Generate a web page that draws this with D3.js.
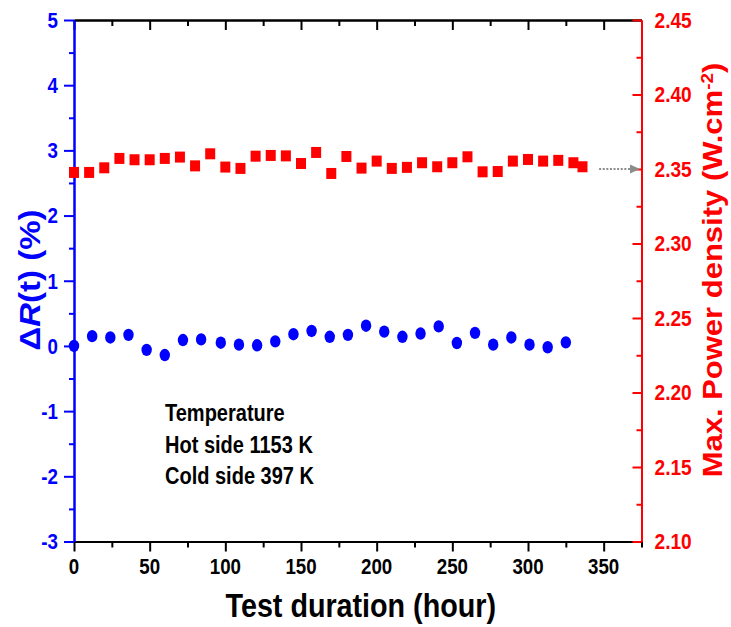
<!DOCTYPE html>
<html>
<head>
<meta charset="utf-8">
<script src="https://cdn.jsdelivr.net/npm/d3@7"></script>
<style>
  html, body { margin: 0; padding: 0; background: #ffffff; }
  svg { display: block; }
  text { font-family: "Liberation Sans", Arial, sans-serif; font-weight: bold; }
</style>
</head>
<body>
<svg id="chart" width="731" height="627"></svg>
<script>
// Resistance change ΔR(t) (%) vs. test duration (hours)
const resHours = [0, 12, 24, 36, 48, 60, 72, 84, 97, 109, 121, 133, 145, 157,
                  169, 181, 193, 205, 217, 229, 241, 253, 265, 277, 289, 301, 313, 325];
const resChange = [0.00, 0.15, 0.13, 0.17, -0.06, -0.14, 0.09, 0.10, 0.05, 0.02, 0.01, 0.07, 0.18, 0.23,
                   0.14, 0.17, 0.31, 0.22, 0.14, 0.19, 0.30, 0.045, 0.20, 0.02, 0.13, 0.02, -0.02, 0.055];

// Maximum power density (W.cm-2) vs. test duration (hours)
const powerHours = [0, 10, 20, 30, 40, 50, 60, 70, 80, 90, 100, 110, 120, 130, 140, 150, 160, 170,
                    180, 190, 200, 210, 220, 230, 240, 250, 260, 270, 280, 290, 300, 310, 320, 330, 336];
const powerDensity = [2.3477, 2.3477, 2.3508, 2.3571, 2.3562, 2.3562, 2.3571, 2.3580, 2.3521, 2.3602,
                      2.3513, 2.3504, 2.3586, 2.3591, 2.3588, 2.3537, 2.3611, 2.3470, 2.3584, 2.3506,
                      2.3553, 2.3504, 2.3511, 2.3542, 2.3515, 2.3542, 2.3582, 2.3481, 2.3483, 2.3553,
                      2.3564, 2.3553, 2.3558, 2.3542, 2.3515];

// Axis ticks
const xMajor = [0, 50, 100, 150, 200, 250, 300, 350];
const xMinor = [25, 75, 125, 175, 225, 275, 325, 375];
const leftMajor = [-3, -2, -1, 0, 1, 2, 3, 4, 5];
const leftMinor = [-2.5, -1.5, -0.5, 0.5, 1.5, 2.5, 3.5, 4.5];
const rightMajor = [2.10, 2.15, 2.20, 2.25, 2.30, 2.35, 2.40, 2.45];
const rightMinor = [2.125, 2.175, 2.225, 2.275, 2.325, 2.375, 2.425];

// Test conditions note
const noteLines = ["Temperature", "Hot side 1153 K", "Cold side 397 K"];

// Arrow pointing from the power series to its axis
const arrowFrom = [347, 2.35];
const arrowTo = [374, 2.35];

const BLUE = "#0000ff", RED = "#ff0000", BLACK = "#000000";
const squeeze = 0.87; // narrow lettering

const svg = d3.select("#chart");
const plotL = 74, plotR = 641.5, plotT = 20, plotB = 541.5;

const x = d3.scaleLinear().domain([0, 375]).range([plotL, plotR]);
const yL = d3.scaleLinear().domain([-3, 5]).range([plotB, plotT]);
const yR = d3.scaleLinear().domain([2.10, 2.45]).range([plotB, plotT]);

function label(g, txt, px, py, opts) {
  const rot = opts.rotate || 0;
  const t = g.append("text")
    .attr("transform", `translate(${px},${py}) scale(${squeeze},1)` + (rot ? ` rotate(${rot})` : ""))
    .attr("text-anchor", opts.anchor || "middle")
    .attr("font-size", opts.size)
    .attr("fill", opts.color || BLACK);
  if (opts.dy) t.attr("dy", opts.dy);
  if (txt !== null) t.text(txt);
  return t;
}

function styleAxis(g, color) {
  g.select(".domain").attr("stroke", color).attr("stroke-width", 2);
  g.selectAll(".tick line").attr("stroke", color).attr("stroke-width", 2);
  g.selectAll(".tick text").remove();
}

// Bottom axis (ticks outward)
const gB = svg.append("g").attr("transform", `translate(0,${plotB})`);
gB.call(d3.axisBottom(x).tickValues(xMajor).tickSize(10).tickSizeOuter(0));
styleAxis(gB, BLACK);
const gBm = svg.append("g").attr("transform", `translate(0,${plotB})`);
gBm.call(d3.axisBottom(x).tickValues(xMinor).tickSize(6).tickSizeOuter(0));
styleAxis(gBm, BLACK);

// Top axis (ticks inward)
const gT = svg.append("g").attr("transform", `translate(0,${plotT})`);
gT.call(d3.axisTop(x).tickValues(xMajor).tickSize(-10).tickSizeOuter(0));
styleAxis(gT, BLACK);
const gTm = svg.append("g").attr("transform", `translate(0,${plotT})`);
gTm.call(d3.axisTop(x).tickValues(xMinor.slice(0, -1)).tickSize(-6).tickSizeOuter(0));
styleAxis(gTm, BLACK);

// Left axis, ΔR(t) (blue, ticks outward)
const gL = svg.append("g").attr("transform", `translate(${plotL},0)`);
gL.call(d3.axisLeft(yL).tickValues(leftMajor).tickSize(10).tickSizeOuter(0));
styleAxis(gL, BLUE);
const gLm = svg.append("g").attr("transform", `translate(${plotL},0)`);
gLm.call(d3.axisLeft(yL).tickValues(leftMinor).tickSize(5).tickSizeOuter(0));
styleAxis(gLm, BLUE);

// Right axis, power density (red, ticks inward)
const gR = svg.append("g").attr("transform", `translate(${plotR},0)`);
gR.call(d3.axisRight(yR).tickValues(rightMajor).tickSize(-9).tickSizeOuter(0));
styleAxis(gR, RED);
const gRm = svg.append("g").attr("transform", `translate(${plotR},0)`);
gRm.call(d3.axisRight(yR).tickValues(rightMinor).tickSize(-5).tickSizeOuter(0));
styleAxis(gRm, RED);

// Tick labels
const labels = svg.append("g");
xMajor.forEach(v => label(labels, String(v), x(v), plotB + 32, { size: 21.5 }));
leftMajor.forEach(v => label(labels, String(v), plotL - 16, yL(v), { size: 21.5, anchor: "end", color: BLUE, dy: "0.36em" }));
rightMajor.forEach(v => label(labels, v.toFixed(2), plotR + 13, yR(v), { size: 22, anchor: "start", color: RED, dy: "0.36em" }));

// Axis titles
label(svg, "Test duration (hour)", (plotL + plotR) / 2 + 3, 617, { size: 33 });

const tL = label(svg, null, 40, 280, { size: 33, color: BLUE, rotate: -90 });
tL.append("tspan").text("Δ");
tL.append("tspan").attr("font-style", "italic").text("R");
tL.append("tspan").text("(t) (%)");

const tR = label(svg, null, 722, 270, { size: 31, color: RED, rotate: -90 });
tR.append("tspan").text("Max. Power density (W.cm");
tR.append("tspan").attr("font-size", 19).attr("dy", "-0.55em").text("-2");
tR.append("tspan").attr("dy", "0.34em").text(")");

// Power density series (red squares)
const sqW = 10, sqH = 11;
svg.append("g").selectAll("rect")
  .data(powerHours.map((h, i) => [h, powerDensity[i]]))
  .join("rect")
  .attr("x", d => x(d[0]) - sqW / 2)
  .attr("y", d => yR(d[1]) - sqH / 2)
  .attr("width", sqW).attr("height", sqH)
  .attr("fill", RED);

// Resistance change series (blue dots)
svg.append("g").selectAll("ellipse")
  .data(resHours.map((h, i) => [h, resChange[i]]))
  .join("ellipse")
  .attr("cx", d => x(d[0]))
  .attr("cy", d => yL(d[1]))
  .attr("rx", 5.2).attr("ry", 6.2)
  .attr("fill", BLUE);

// Dotted arrow toward the right axis
const ax0 = x(arrowFrom[0]), ax1 = x(arrowTo[0]), ay = yR(arrowFrom[1]);
svg.append("line")
  .attr("x1", ax0).attr("y1", ay).attr("x2", ax1 - 9).attr("y2", ay)
  .attr("stroke", "#8c8c8c").attr("stroke-width", 2).attr("stroke-dasharray", "2,1.6");
svg.append("path")
  .attr("d", `M${ax1},${ay} L${ax1 - 10},${ay - 4.5} L${ax1 - 10},${ay + 4.5} Z`)
  .attr("fill", "#8c8c8c");

// Test conditions note
const note = svg.append("g");
noteLines.forEach((s, i) => label(note, s, 165, 421 + i * 31.5, { size: 23, anchor: "start" }));
</script>
</body>
</html>
